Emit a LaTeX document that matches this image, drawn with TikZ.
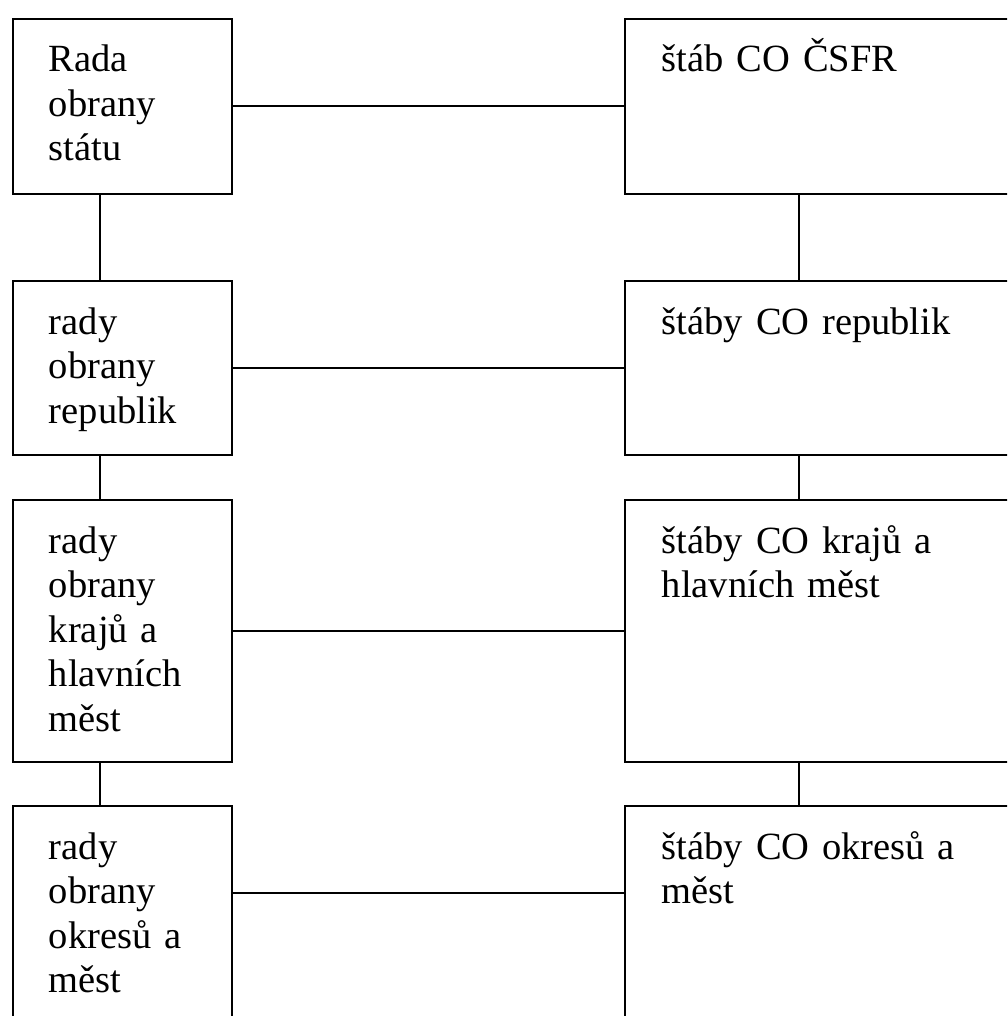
\documentclass[tikz,border=0pt]{standalone}
\usepackage{fontspec}
\setmainfont{Liberation Serif}
\tikzset{
  orgbox/.style={draw,line width=1.8pt,inner sep=0pt,anchor=north west},
  boxtext/.style={anchor=base west,inner sep=0pt,text width=#1,align=left,
    font=\fontsize{38.5}{44.5}\selectfont},
  boxtext/.default=180pt,
}
\begin{document}
\begin{tikzpicture}[x=1pt,y=-1pt,line width=1.8pt]
\useasboundingbox (0,0) rectangle (1007,1016);
\clip (0,0) rectangle (1007,1016);
\foreach \n/\t/\h in {1/18/175,2/280/174,3/499/262,4/805/240} {
  \node[orgbox,minimum width=219pt,minimum height=\h pt] (l\n) at (12,\t) {};
  \node[orgbox,minimum width=420pt,minimum height=\h pt] (r\n) at (624,\t) {};
}

\node[boxtext] (lt1) at ([shift={(36pt,-54pt)}]l1.north west) {Rada\\obrany\\státu};
\node[boxtext] (lt2) at ([shift={(36pt,-54pt)}]l2.north west) {rady\\obrany\\republik};
\node[boxtext] (lt3) at ([shift={(36pt,-54pt)}]l3.north west) {rady\\obrany\\krajů a\\hlavních\\měst};
\node[boxtext] (lt4) at ([shift={(36pt,-54pt)}]l4.north west) {rady\\obrany\\okresů a\\měst};

\node[boxtext=360pt] (rt1) at ([shift={(37pt,-54pt)}]r1.north west) {štáb CO ČSFR};
\node[boxtext=360pt] (rt2) at ([shift={(37pt,-54pt)}]r2.north west) {štáby CO republik};
\node[boxtext=360pt] (rt3) at ([shift={(37pt,-54pt)}]r3.north west) {štáby CO krajů a\\hlavních měst};
\node[boxtext=360pt] (rt4) at ([shift={(37pt,-54pt)}]r4.north west) {štáby CO okresů a\\měst};

\coordinate (lv) at (100,0);
\coordinate (rv) at (799,0);
\coordinate (h4) at (0,893);
\foreach \n in {1,2,3}
   \draw (l\n.east) -- (r\n.west);
\draw (l4.east |- h4) -- (r4.west |- h4);
\foreach \n/\m in {1/2,2/3,3/4} {
  \draw (l\n.south -| lv) -- (l\m.north -| lv);
  \draw (r\n.south -| rv) -- (r\m.north -| rv);
}
\end{tikzpicture}
\end{document}
